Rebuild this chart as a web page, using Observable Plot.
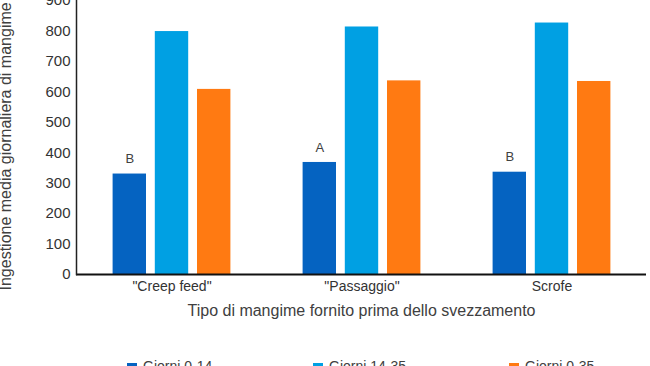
<!DOCTYPE html>
<html>
<head>
<meta charset="utf-8">
<script src="https://cdn.jsdelivr.net/npm/d3@7"></script>
<script src="https://cdn.jsdelivr.net/npm/@observablehq/plot@0.6"></script>
<style>
  html, body { margin: 0; padding: 0; background: white; }
  #wrap { position: relative; width: 650px; height: 366px; overflow: hidden; font-family: Arial, "Liberation Sans", sans-serif; }
  #legend { position: absolute; left: 0; top: 0; width: 650px; height: 366px; pointer-events: none; }
  .item { position: absolute; top: 358px; display: flex; align-items: flex-start; font-size: 14px; line-height: 16px; color: #404040; white-space: nowrap; }
  .sw { width: 10px; height: 10px; margin-top: 5px; margin-right: 6px; }
</style>
</head>
<body>
<div id="wrap"><div id="chart"></div><div id="legend"></div></div>
<script>
// ---- data ----
const categories = ['"Creep feed"', '"Passaggio"', 'Scrofe'];
const series = ["Giorni 0-14", "Giorni 14-35", "Giorni 0-35"];
const giorni0_14 = [330, 368, 336];
const giorni14_35 = [798, 813, 826];
const giorni0_35 = [608, 636, 634];
const letters = ["B", "A", "B"];
const yTicks = [0, 100, 200, 300, 400, 500, 600, 700, 800, 900];
const colors = ["#0563C1", "#00A0E3", "#FF7A12"];
const xTitle = "Tipo di mangime fornito prima dello svezzamento";
const yTitle = "Ingestione media giornaliera di mangime (g)";

// ---- table ----
const values = [giorni0_14, giorni14_35, giorni0_35];
const data = [];
series.forEach((s, i) => categories.forEach((c, j) => data.push({cat: c, series: s, value: values[i][j]})));
const letterData = categories.map((c, j) => ({cat: c, value: giorni0_14[j], letter: letters[j]}));

// ---- style constants ----
const sub = 42.2;   // sub-band step for series within a category
const gap = 4.6;    // half gap between bars
const ink = "#333";

const chart = Plot.plot({
  width: 650,
  height: 366,
  marginLeft: 76,
  marginRight: 4,
  marginTop: 0,
  marginBottom: 92,
  style: {fontFamily: 'Arial, "Liberation Sans", sans-serif', background: "white", color: ink},
  x: {domain: categories, paddingInner: 0.3337, paddingOuter: 0.1668, label: null},
  y: {domain: [0, 900], label: null},
  color: {domain: series, range: colors},
  marks: [
    ...series.map((s, i) => Plot.barY(data.filter(d => d.series === s), {
      x: "cat", y: "value", fill: "series",
      insetLeft: gap + i * sub, insetRight: gap + (2 - i) * sub
    })),
    Plot.text(letterData, {x: "cat", y: "value", text: "letter", dx: -sub, dy: -15, fontSize: 13, fill: "#404040"}),
    Plot.axisY({ticks: yTicks, tickSize: 0, tickPadding: 6, fontSize: 15, label: null, fill: ink}),
    Plot.axisX({tickSize: 0, tickPadding: 7, fontSize: 14, label: null, fill: ink}),
    Plot.ruleY([0], {stroke: "#111", strokeWidth: 2}),
    Plot.frame({anchor: "left", stroke: "#222", strokeWidth: 1.5}),
    Plot.text([xTitle], {text: d => d, frameAnchor: "bottom", dy: 41, fontSize: 16, fill: "#404040"}),
    Plot.text([yTitle], {text: d => d, frameAnchor: "bottom-left", rotate: -90, textAnchor: "start", dx: -66, dy: 16, fontSize: 16, fill: "#404040"})
  ]
});
document.getElementById("chart").appendChild(chart);

// ---- legend ----
const legendX = [127, 313, 509];
const legend = document.getElementById("legend");
series.forEach((s, i) => {
  const item = document.createElement("div");
  item.className = "item";
  item.style.left = legendX[i] + "px";
  const sw = document.createElement("span");
  sw.className = "sw";
  sw.style.background = colors[i];
  const t = document.createElement("span");
  t.textContent = s;
  item.appendChild(sw);
  item.appendChild(t);
  legend.appendChild(item);
});
</script>
</body>
</html>
